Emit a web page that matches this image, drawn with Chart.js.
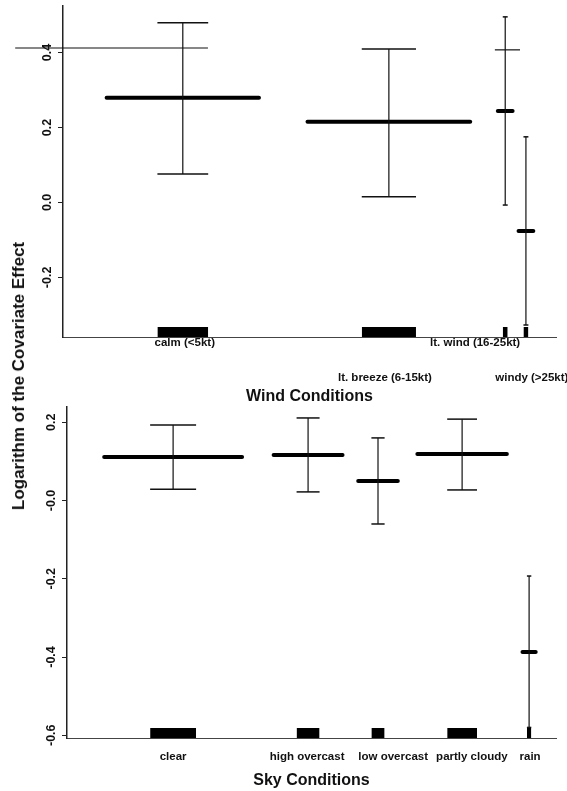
<!DOCTYPE html>
<html><head><meta charset="utf-8">
<script src="https://cdn.jsdelivr.net/npm/chart.js@4.4.1/dist/chart.umd.min.js"></script>
<style>
html,body{margin:0;padding:0;background:#fff}
body{width:567px;height:791px;position:relative;overflow:hidden}
canvas{position:absolute;left:0}
#ytitle{position:absolute;left:19px;top:376px;transform:translate(-50%,-50%) rotate(-90deg);white-space:nowrap;font:bold 17px "Liberation Sans",Arial,Helvetica,sans-serif;color:#111}
</style></head><body>
<canvas id="wind" width="567" height="405" style="top:0"></canvas>
<canvas id="sky" width="567" height="386" style="top:405px"></canvas>
<div id="ytitle">Logarithm of the Covariate Effect</div>
<script>
// ---------- Wind panel data ----------
const windCategories = ['calm (<5kt)', 'lt. breeze (6-15kt)', 'lt. wind (16-25kt)', 'windy (>25kt)'];
const windPositions = [24.3, 66.1, 89.7, 93.9];     // level position along the axis (0-100)
const windShares = [10.3, 11.0, 1.0, 1.0];          // relative frequency (rug width)
const windEstimates = [0.279, 0.215, 0.244, -0.076];
const windLower = [0.076, 0.015, -0.007, -0.327];
const windUpper = [0.479, 0.409, 0.495, 0.175];
const windLabelPositions = [24.7, 65.3, 83.6, 95.1];
const windLabelRows = [0, 1, 0, 1];
const windTicks = [-0.2, 0.0, 0.2, 0.4];
const windTickLabels = ['-0.2', '0.0', '0.2', '0.4'];
const windExtraFrom = [-9.7, 87.6];
const windExtraTo = [29.4, 92.7];
const windExtraY = [0.412, 0.407];

// ---------- Sky panel data ----------
const skyCategories = ['clear', 'high overcast', 'low overcast', 'partly cloudy', 'rain'];
const skyPositions = [21.7, 49.3, 63.6, 80.8, 94.5];
const skyShares = [9.4, 4.7, 2.7, 6.1, 0.9];
const skyEstimates = [0.111, 0.116, 0.050, 0.119, -0.387];
const skyLower = [0.029, 0.022, -0.060, 0.027, -0.58];
const skyUpper = [0.193, 0.211, 0.160, 0.208, -0.193];
const skyLabelPositions = [21.7, 49.1, 66.7, 82.8, 94.7];
const skyLabelRows = [0, 0, 0, 0, 0];
const skyTicks = [-0.6, -0.4, -0.2, 0.0, 0.2];
const skyTickLabels = ['-0.6', '-0.4', '-0.2', '-0.0', '0.2'];

Chart.defaults.font.family = '"Liberation Sans", Arial, Helvetica, sans-serif';

function seg(x1, y1, x2, y2, width, extra) {
  return Object.assign({
    data: [{x: x1, y: y1}, {x: x2, y: y2}],
    borderColor: '#111', backgroundColor: '#000', borderWidth: width,
    pointRadius: 0, tension: 0, fill: false
  }, extra || {});
}

function markDatasets(pos, share, est, lo, hi, yMin, yMax) {
  const rugH = (yMax - yMin) * 0.03;
  const ds = [];
  pos.forEach((c, i) => {
    const w = share[i];
    ds.push(seg(c - w / 2, yMin + rugH, c + w / 2, yMin + rugH, 0, {fill: 'start', backgroundColor: '#000'}));
    ds.push(seg(c, lo[i], c, hi[i], 1.2));
    ds.push(seg(c - w / 2, hi[i], c + w / 2, hi[i], 1.5));
    ds.push(seg(c - w / 2, lo[i], c + w / 2, lo[i], 1.5));
    ds.push(seg(c - 1.5 * w, est[i], c + 1.5 * w, est[i], 4, {borderColor: '#000', borderCapStyle: 'round'}));
  });
  return ds;
}

function yScale(min, max, ticks, labels, width) {
  return {
    type: 'linear', position: 'left', min: min, max: max,
    afterBuildTicks: s => { s.ticks = ticks.map(v => ({value: v})); },
    afterFit: s => { s.width = width; s.paddingTop = 0; s.paddingBottom = 0; },
    ticks: {callback: (v, i) => labels[i], minRotation: 90, maxRotation: 90, crossAlign: 'center',
            padding: 0, color: '#111', font: {size: 12.5, weight: 'bold'}},
    grid: {drawOnChartArea: false, drawTicks: true, tickLength: 5, color: '#222', lineWidth: 1},
    border: {display: true, color: '#222', width: 1.5}
  };
}

function xScale(positions, labels, rows, title, height, tickPad, titlePad) {
  return {
    type: 'linear', position: 'bottom', min: 0, max: 100,
    afterBuildTicks: s => { s.ticks = positions.map(v => ({value: v})); },
    afterFit: s => { s.height = height; s.paddingLeft = 0; s.paddingRight = 0; },
    ticks: {autoSkip: false, minRotation: 0, maxRotation: 0, padding: tickPad, color: '#111',
            font: {size: 11.5, weight: 'bold', lineHeight: 1.026},
            callback: (v, i) => rows[i] ? ['', '', '', labels[i]] : labels[i]},
    grid: {display: false, drawTicks: false},
    border: {display: true, color: '#444', width: 1},
    title: {display: true, text: title, color: '#111', font: {size: 16, weight: 'bold', lineHeight: 1},
            padding: {top: 0, bottom: titlePad}}
  };
}

function makeChart(id, datasets, xs, ys, pad) {
  return new Chart(document.getElementById(id), {
    type: 'line',
    data: {datasets: datasets},
    options: {
      responsive: false, animation: false, devicePixelRatio: 1,
      layout: {padding: pad},
      plugins: {legend: {display: false}, tooltip: {enabled: false}},
      scales: {x: xs, y: ys}
    }
  });
}

// Wind chart
const windMin = -0.359, windMax = 0.524;
const windSets = markDatasets(windPositions, windShares, windEstimates, windLower, windUpper, windMin, windMax);
windExtraFrom.forEach((f, i) => windSets.push(seg(f, windExtraY[i], windExtraTo[i], windExtraY[i], 1.2, {clip: false})));
makeChart('wind', windSets,
  xScale(windLabelPositions, windCategories, windLabelRows, 'Wind Conditions', 68, 0, 0.6),
  yScale(windMin, windMax, windTicks, windTickLabels, 63),
  {left: 0, top: 6, right: 11, bottom: 0});

// Sky chart
const skyMin = -0.607, skyMax = 0.239;
const skySets = markDatasets(skyPositions, skyShares, skyEstimates, skyLower, skyUpper, skyMin, skyMax);
makeChart('sky', skySets,
  xScale(skyLabelPositions, skyCategories, skyLabelRows, 'Sky Conditions', 53, 12.5, 2.6),
  yScale(skyMin, skyMax, skyTicks, skyTickLabels, 67),
  {left: 0, top: 2, right: 11, bottom: 0});
</script>
</body></html>
